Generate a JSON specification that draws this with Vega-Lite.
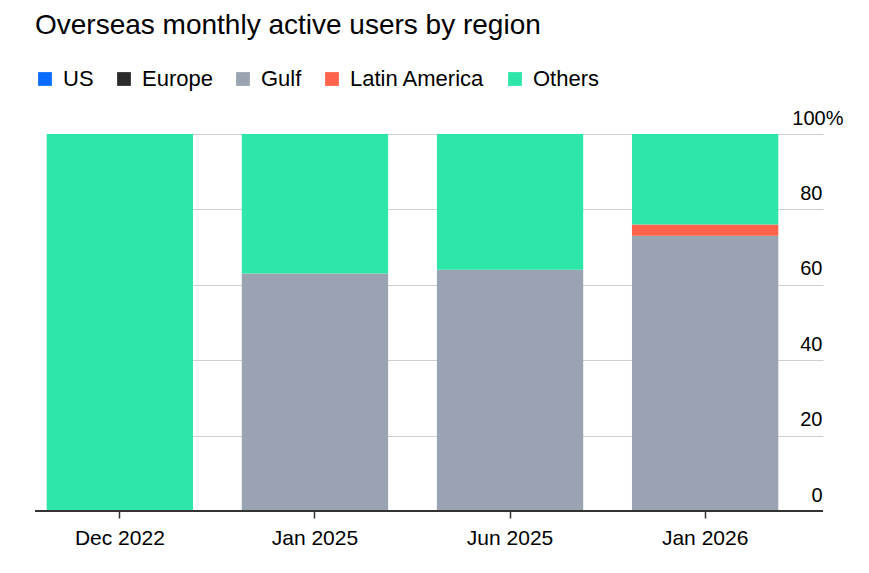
{
  "$schema": "https://vega.github.io/schema/vega-lite/v6.json",
  "width": 788,
  "height": 377,
  "autosize": {"type": "none"},
  "padding": {"left": 35, "top": 134, "right": 46, "bottom": 62},
  "title": {
    "text": "Overseas monthly active users by region",
    "anchor": "start",
    "frame": "group",
    "fontSize": 28,
    "fontWeight": "normal",
    "color": "#000000",
    "offset": 28
  },
  "data": {
    "values": [
      {"date": "Dec 2022", "region": "US", "share": 0},
      {"date": "Dec 2022", "region": "Europe", "share": 0},
      {"date": "Dec 2022", "region": "Gulf", "share": 0},
      {"date": "Dec 2022", "region": "Latin America", "share": 0},
      {"date": "Dec 2022", "region": "Others", "share": 100},
      {"date": "Jan 2025", "region": "US", "share": 0},
      {"date": "Jan 2025", "region": "Europe", "share": 0},
      {"date": "Jan 2025", "region": "Gulf", "share": 63},
      {"date": "Jan 2025", "region": "Latin America", "share": 0},
      {"date": "Jan 2025", "region": "Others", "share": 37},
      {"date": "Jun 2025", "region": "US", "share": 0},
      {"date": "Jun 2025", "region": "Europe", "share": 0},
      {"date": "Jun 2025", "region": "Gulf", "share": 64},
      {"date": "Jun 2025", "region": "Latin America", "share": 0},
      {"date": "Jun 2025", "region": "Others", "share": 36},
      {"date": "Jan 2026", "region": "US", "share": 0},
      {"date": "Jan 2026", "region": "Europe", "share": 0},
      {"date": "Jan 2026", "region": "Gulf", "share": 73},
      {"date": "Jan 2026", "region": "Latin America", "share": 3},
      {"date": "Jan 2026", "region": "Others", "share": 24}
    ]
  },
  "layer": [
    {
      "mark": {"type": "bar"},
      "encoding": {
        "x": {
          "field": "date",
          "type": "nominal",
          "sort": ["Dec 2022", "Jan 2025", "Jun 2025", "Jan 2026"],
          "scale": {"range": [0, 755], "paddingInner": 0.25, "paddingOuter": 0.06},
          "axis": {
            "title": null,
            "domain": false,
            "ticks": true,
            "tickColor": "#333333",
            "tickSize": 7,
            "tickWidth": 1.5,
            "labelAngle": 0,
            "labelPadding": 9,
            "labelFontSize": 21,
            "labelColor": "#000000"
          }
        },
        "y": {
          "field": "share",
          "type": "quantitative",
          "stack": "zero",
          "scale": {"domain": [0, 100]},
          "axis": {
            "orient": "right",
            "title": null,
            "domain": false,
            "ticks": false,
            "grid": true,
            "gridColor": "#cfcfcf",
            "gridWidth": 1,
            "values": [0, 20, 40, 60, 80, 100],
            "labelExpr": "datum.value === 100 ? '100%' : datum.label",
            "labelAlign": "right",
            "labelBaseline": "bottom",
            "labelOffset": -6,
            "labelPadding": {"condition": {"test": "datum.value === 100", "value": 20}, "value": -1},
            "labelFontSize": 20,
            "labelColor": "#000000"
          }
        },
        "order": {"field": "region", "sort": "ascending"},
        "color": {
          "field": "region",
          "type": "nominal",
          "scale": {
            "domain": ["US", "Europe", "Gulf", "Latin America", "Others"],
            "range": ["#0a6cff", "#2b2b2b", "#99a3b1", "#ff634b", "#2ee6a9"]
          },
          "legend": {
            "title": null,
            "orient": "none",
            "legendX": -1,
            "legendY": -66,
            "direction": "horizontal",
            "symbolType": "square",
            "symbolSize": 190,
            "symbolStrokeWidth": 0,
            "labelFontSize": 22,
            "labelColor": "#000000",
            "labelOffset": 7,
            "columnPadding": 19
          }
        }
      }
    },
    {
      "mark": {"type": "rule", "color": "#333333", "strokeWidth": 2},
      "encoding": {"y": {"datum": 0}}
    }
  ],
  "config": {
    "font": "Liberation Sans",
    "view": {"stroke": null}
  }
}
